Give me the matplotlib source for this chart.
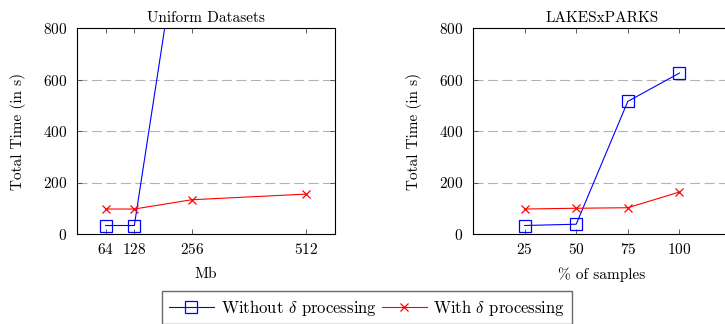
import matplotlib
matplotlib.use('Agg')
import matplotlib.pyplot as plt

plt.rcParams['font.family'] = ['cmr10', 'DejaVu Serif']
plt.rcParams['mathtext.fontset'] = 'cm'
plt.rcParams['axes.formatter.use_mathtext'] = True
plt.rcParams['axes.unicode_minus'] = False

# Uniform datasets (Mb)
uniform_sizes = [64, 128, 256, 512]
uniform_without = [33, 33, 1480, 3000]
uniform_with = [97, 97, 133, 155]

# LAKESxPARKS (% of samples)
sample_pcts = [25, 50, 75, 100]
lakes_without = [33, 38, 515, 625]
lakes_with = [97, 100, 102, 163]

y_ticks = [0, 200, 400, 600, 800]

fig = plt.figure(figsize=(7.25, 3.24), dpi=100)
ax1 = fig.add_axes([77 / 725, 1 - 234 / 324, 258 / 725, 206 / 324])
ax2 = fig.add_axes([473 / 725, 1 - 234 / 324, 258 / 725, 206 / 324])

fs = 11
blue_kw = dict(color='blue', lw=0.8, marker='s', markersize=8.5, markerfacecolor='none',
               markeredgecolor='blue', markeredgewidth=0.9)
red_kw = dict(color='red', lw=0.8, marker='x', markersize=5.5, markeredgewidth=0.9)

panels = [
    (ax1, uniform_sizes, uniform_without, uniform_with, 'Uniform Datasets', 'Mb', (0, 576)),
    (ax2, sample_pcts, lakes_without, lakes_with, 'LAKESxPARKS', '% of samples', (0, 125)),
]

for ax, xs, blue_vals, red_vals, title, xlabel, xlim in panels:
    l1, = ax.plot(xs, blue_vals, label=r'Without $\delta$ processing', **blue_kw)
    l2, = ax.plot(xs, red_vals, label=r'With $\delta$ processing', **red_kw)
    ax.set_xlim(*xlim)
    ax.set_ylim(0, 800)
    ax.set_xticks(xs)
    ax.set_yticks(y_ticks)
    for y in [200, 400, 600]:
        ax.axhline(y, color='#b3b3b3', lw=0.8, ls=(0, (9, 4)), zorder=0)
    ax.tick_params(direction='in', top=True, right=True, labelsize=fs, length=3.5,
                   width=0.6, color='#444444')
    ax.tick_params(axis='y', pad=7)
    ax.tick_params(axis='x', pad=6)
    for s in ax.spines.values():
        s.set_linewidth(0.8)
    ax.set_title(title, fontsize=fs, pad=4)
    ax.set_xlabel(xlabel, fontsize=fs, labelpad=7)
    ax.set_ylabel('Total Time (in s)', fontsize=fs, labelpad=12)

fig.legend([l1, l2], [l1.get_label(), l2.get_label()], loc='upper center',
           bbox_to_anchor=(367 / 725, 1 - 291 / 324), ncol=2, fontsize=12,
           frameon=True, fancybox=False, edgecolor='#444444', handlelength=2.7,
           columnspacing=0.3, handletextpad=0.4, borderpad=0.4, borderaxespad=0)

fig.savefig('out.png', dpi=100)
